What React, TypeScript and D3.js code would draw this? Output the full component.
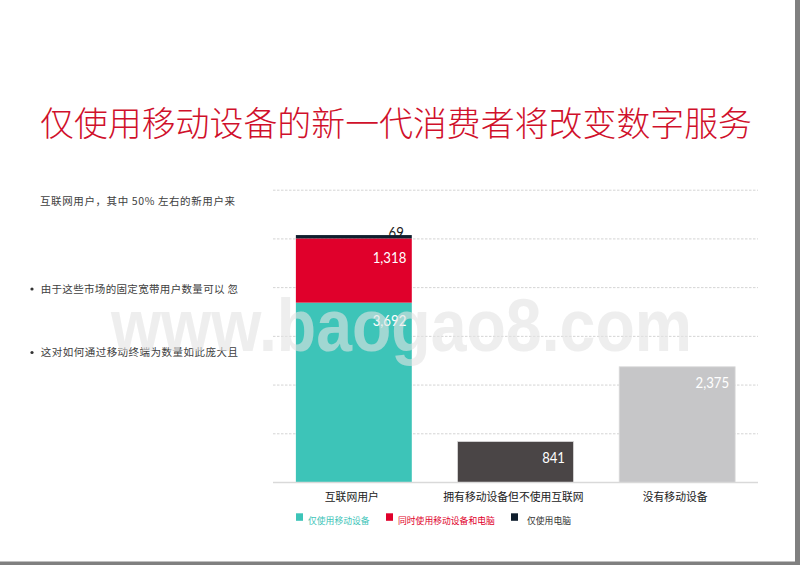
import React from "react";
import * as d3 from "d3";

const title = "仅使用移动设备的新一代消费者将改变数字服务";
const categories = ["互联网用户", "拥有移动设备但不使用互联网", "没有移动设备"];
const seriesNames = ["仅使用移动设备", "同时使用移动设备和电脑", "仅使用电脑"];
const internetUserValues = [3692, 1318, 69];
const otherValues = [841, 2375];
const yTicks = [1000, 2000, 3000, 4000, 5000, 6000];
const noteLines = [
  { text: "互联网用户，其中 50% 左右的新用户来", bullet: false },
  { text: "由于这些市场的固定宽带用户数量可以 忽", bullet: true },
  { text: "这对如何通过移动终端为数量如此庞大且", bullet: true },
];

const seriesColors = ["#3dc4b8", "#e0002b", "#0f1e2d"];
const otherColors = ["#4a4546", "#c6c6c8"];
const legendTextColors = ["#3dc4b8", "#e0002b", "#333333"];

const CJK = "'Noto Sans CJK SC', 'Noto Sans', sans-serif";
const NUM = "'Lato', sans-serif";

const fmt = d3.format(",");
const numWidth = (s: string) => {
  let w = 0;
  for (const ch of s) w += ch === "," ? 3.2 : 7.6;
  return w;
};

export default function App() {
  const W = 800, H = 565;
  const x = d3.scaleBand<string>().domain(categories).range([273, 758]).paddingInner(0.283).paddingOuter(0.1415);
  const y = d3.scaleLinear().domain([0, 6000]).range([482.5, 190.2]);
  const cum = d3.cumsum(internetUserValues);
  const bw = x.bandwidth();

  const stacked = internetUserValues.map((v, i) => ({
    v,
    y0: cum[i] - v,
    y1: cum[i],
    color: seriesColors[i],
  }));

  const legendX = [296, 386, 511];
  const noteY = [201.5, 289, 352.5];
  const noteX = [40, 40.7, 40.7];
  const noteEnd = [235, 238, 238];

  const NumLabel = ({ xr, yb, v, fill }: { xr: number; yb: number; v: number; fill: string }) => {
    const s = fmt(v);
    return (
      <text x={xr - numWidth(s)} y={yb} fontFamily={NUM} fontSize={15.5} fill={fill} textLength={numWidth(s)} lengthAdjust="spacingAndGlyphs">
        {s}
      </text>
    );
  };

  return (
    <div style={{ position: "fixed", left: 0, top: 0, width: W, height: H }}>
      <svg width={W} height={H} style={{ display: "block" }}>
        <rect x={0} y={0} width={W} height={H} fill="#ffffff" />
        {/* slide borders */}
        <rect x={795} y={0} width={5} height={H} fill="#808080" />
        <rect x={0} y={561.5} width={W} height={3.5} fill="#808080" />

        <text x={396} y={136} textAnchor="middle" fontFamily={CJK} fontSize={34} fill="#d0102b" fontWeight={300} textLength={712} lengthAdjust="spacingAndGlyphs">
          {title}
        </text>

        {noteLines.map((n, i) => (
          <g key={i}>
            {n.bullet && <circle cx={32} cy={noteY[i]} r={1.6} fill="#333" />}
            <text x={noteX[i]} y={noteY[i] + 3.8} fontFamily={CJK} fontSize={10.5} fill="#404040" textLength={noteEnd[i] - noteX[i]} lengthAdjust="spacing">
              {n.text}
            </text>
          </g>
        ))}

        {/* grid */}
        {yTicks.map((t) => (
          <line key={t} x1={273} x2={758} y1={y(t)} y2={y(t)} stroke="#d4d4d4" strokeWidth={1} strokeDasharray="2.5,1.5" />
        ))}

        {/* label 69 drawn beneath the bar */}
        <NumLabel xr={x(categories[0])! + bw - 8} yb={y(cum[2]) + 2.5} v={internetUserValues[2]} fill="#1a1a1a" />

        {/* stacked bar */}
        {stacked.map((s, i) => (
          <rect key={i} x={x(categories[0])!} y={y(s.y1)} width={bw} height={y(s.y0) - y(s.y1)} fill={s.color} />
        ))}
        {stacked.slice(0, 2).map((s, i) => (
          <NumLabel key={i} xr={x(categories[0])! + bw - 5.5} yb={y(s.y1) + (i === 1 ? 25 : 23.5)} v={s.v} fill="#ffffff" />
        ))}

        {/* other bars */}
        {otherValues.map((v, i) => (
          <g key={i}>
            <rect x={x(categories[i + 1])!} y={y(v)} width={bw} height={y(0) - y(v)} fill={otherColors[i]} stroke="#d9d9d9" strokeWidth={0.8} />
            <NumLabel xr={x(categories[i + 1])! + bw - (i === 0 ? 8.5 : 6)} yb={y(v) + 21.5} v={v} fill="#ffffff" />
          </g>
        ))}

        {/* watermark */}
        <text x={111} y={351} fontFamily="'Liberation Sans', Arial, sans-serif" fontWeight={700} fontSize={74} fill="#e4e4e4" opacity={0.6} textLength={581} lengthAdjust="spacingAndGlyphs">
          www.baogao8.com
        </text>

        {/* axis baseline */}
        <line x1={273} x2={758} y1={y(0)} y2={y(0)} stroke="#d9d9d9" strokeWidth={1.5} />

        {categories.map((c) => (
          <text key={c} x={x(c)! + bw / 2 - 2} y={500.5} textAnchor="middle" fontFamily={CJK} fontSize={10.8} fill="#222">
            {c}
          </text>
        ))}

        {/* legend */}
        {seriesNames.map((n, i) => (
          <g key={n}>
            <rect x={legendX[i]} y={513.3} width={7} height={7.5} fill={seriesColors[i]} />
            <text x={legendX[i] + (i === 2 ? 16 : 12)} y={524} fontFamily={CJK} fontSize={8.8} fill={legendTextColors[i]}>
              {n}
            </text>
          </g>
        ))}
      </svg>
    </div>
  );
}
